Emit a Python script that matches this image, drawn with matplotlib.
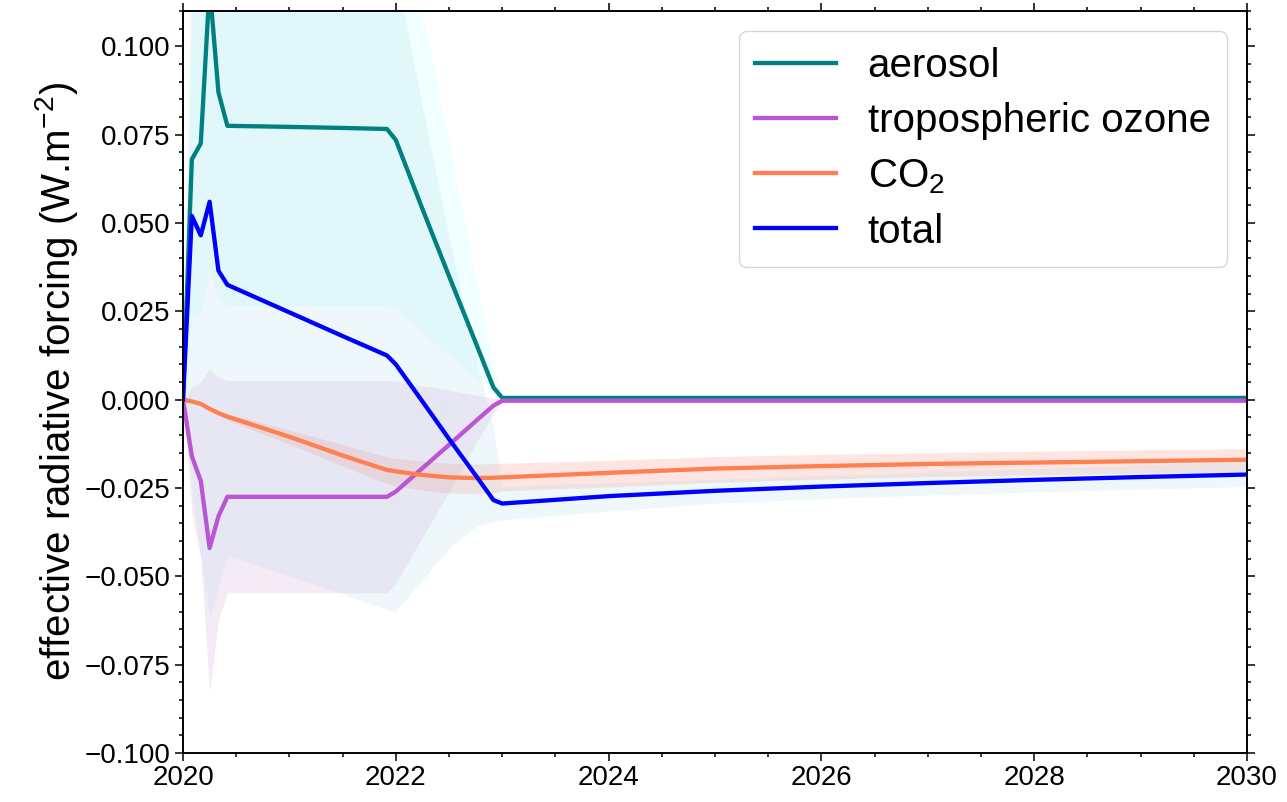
import matplotlib
matplotlib.use("Agg")
import matplotlib.pyplot as plt
from matplotlib.ticker import MultipleLocator, FuncFormatter

plt.rcParams["font.family"] = ["Liberation Sans", "DejaVu Sans"]
plt.rcParams["mathtext.fontset"] = "custom"
plt.rcParams["mathtext.rm"] = "Liberation Sans"
plt.rcParams["mathtext.it"] = "Liberation Sans:italic"

# time nodes (years)
years = [2020.0, 2020.083, 2020.167, 2020.25, 2020.333, 2020.417, 2021.0, 2021.5,
         2021.917, 2022.0, 2022.25, 2022.5, 2022.75, 2022.917, 2023.0,
         2024, 2025, 2026, 2027, 2028, 2029, 2030]

# central estimates (W m-2)
aerosol = [0, 0.068, 0.0725, 0.117, 0.087, 0.0775, 0.0772, 0.0769,
           0.0766, 0.0735, 0.054, 0.035, 0.0162, 0.0035, 0.0005,
           0.0005, 0.0005, 0.0005, 0.0005, 0.0005, 0.0005, 0.0005]
ozone = [0, -0.016, -0.023, -0.042, -0.033, -0.0275, -0.0275, -0.0275,
         -0.0275, -0.026, -0.0194, -0.0128, -0.0061, -0.0017, -0.0003,
         -0.0003, -0.0003, -0.0003, -0.0003, -0.0003, -0.0003, -0.0003]
co2 = [0, -0.0005, -0.0012, -0.0026, -0.0038, -0.0048, -0.0105, -0.0158,
       -0.0199, -0.0203, -0.0213, -0.0220, -0.0222, -0.0221, -0.0220,
       -0.0207, -0.0195, -0.0188, -0.0182, -0.0178, -0.0174, -0.0170]
total = [0, 0.052, 0.0465, 0.056, 0.0365, 0.0325, 0.0247, 0.018,
         0.0125, 0.0100, -0.0005, -0.0111, -0.0214, -0.0284, -0.0294,
         -0.0273, -0.0258, -0.0246, -0.0236, -0.0227, -0.0219, -0.0212]

# uncertainty ranges
aerosol_lo = [0, 0.023, 0.024, 0.0365, 0.029, 0.0266, 0.0266, 0.0266,
              0.0266, 0.026, 0.019, 0.0125, 0.006, 0.002, 0.0003,
              0.0003, 0.0003, 0.0003, 0.0003, 0.0003, 0.0003, 0.0003]
aerosol_hi = [0, 0.115, 0.125, 0.2, 0.15, 0.135, 0.14, 0.145,
              0.148, 0.148, 0.110, 0.073, 0.035, 0.010, 0.0008,
              0.0008, 0.0008, 0.0008, 0.0008, 0.0008, 0.0008, 0.0008]
ozone_lo = [0, -0.032, -0.045, -0.083, -0.0625, -0.0546, -0.0546, -0.0546,
            -0.0546, -0.052, -0.039, -0.026, -0.0125, -0.004, -0.0006,
            -0.0006, -0.0006, -0.0006, -0.0006, -0.0006, -0.0006, -0.0006]
ozone_hi = [0, 0.0035, 0.0049, 0.0087, 0.0063, 0.0054, 0.0054, 0.0054,
            0.0054, 0.0053, 0.004, 0.0027, 0.0013, 0.0004, 0.0,
            0.0, 0.0, 0.0, 0.0, 0.0, 0.0, 0.0]
co2_lo = [0, -0.0006, -0.0014, -0.0031, -0.0045, -0.0058, -0.0126, -0.0188,
          -0.0238, -0.0244, -0.0256, -0.0264, -0.0266, -0.0265, -0.0258,
          -0.0247, -0.0234, -0.0225, -0.0218, -0.0213, -0.0208, -0.0204]
co2_hi = [0, -0.0004, -0.001, -0.0021, -0.0031, -0.0039, -0.0086, -0.0127,
          -0.0162, -0.0166, -0.0174, -0.0180, -0.0182, -0.0181, -0.0180,
          -0.0172, -0.0161, -0.0155, -0.0150, -0.0146, -0.0142, -0.0139]
total_lo = [0, -0.025, -0.045, -0.062, -0.053, -0.044, -0.0499, -0.055,
            -0.0594, -0.060, -0.051, -0.042, -0.036, -0.0345, -0.034,
            -0.0315, -0.0293, -0.0280, -0.0270, -0.0261, -0.0253, -0.0246]
total_hi = [0, 0.13, 0.13, 0.16, 0.14, 0.135, 0.13, 0.128,
            0.125, 0.121, 0.083, 0.046, 0.012, -0.008, -0.0245,
            -0.0235, -0.0225, -0.0215, -0.0205, -0.0195, -0.0185, -0.0175]

fig = plt.figure(figsize=(12.87, 8.02), dpi=100)
ax = fig.add_axes([0.1422, 0.0611, 0.8267, 0.9252])

ax.fill_between(years, aerosol_lo, aerosol_hi, color="cyan", alpha=0.06, lw=0)
ax.fill_between(years, ozone_lo, ozone_hi, color="purple", alpha=0.08, lw=0)
ax.fill_between(years, co2_lo, co2_hi, color="salmon", alpha=0.2, lw=0)
ax.fill_between(years, total_lo, total_hi, color="lightblue", alpha=0.2, lw=0)

lw = 3.1
ax.plot(years, aerosol, color="teal", lw=lw, label="aerosol")
ax.plot(years, ozone, color="mediumorchid", lw=lw, label="tropospheric ozone")
ax.plot(years, co2, color="coral", lw=lw, label="CO$_2$")
ax.plot(years, total, color="blue", lw=lw, label="total")

ax.set_xlim(2020, 2030)
ax.set_ylim(-0.1, 0.11)
ax.xaxis.set_major_locator(MultipleLocator(2))
ax.xaxis.set_minor_locator(MultipleLocator(0.5))
ax.yaxis.set_major_locator(MultipleLocator(0.025))
ax.yaxis.set_minor_locator(MultipleLocator(0.005))
ax.yaxis.set_major_formatter(
    FuncFormatter(lambda v, p: f"{v:.3f}".replace("-", "\u2212") if abs(v) > 1e-9 else "0.000"))
ax.tick_params(which="both", direction="out", top=True, right=True,
               labelsize=20, width=1.1)
ax.tick_params(which="major", length=5.5)
ax.tick_params(which="minor", length=3)
for s in ax.spines.values():
    s.set_linewidth(1.4)

ax.set_ylabel("effective radiative forcing (W.m$^{-2}$)", fontsize=29, labelpad=3)
ax.legend(loc="upper right", fontsize=29, labelspacing=0.42)

fig.savefig("out.png", dpi=100)
plt.close(fig)
